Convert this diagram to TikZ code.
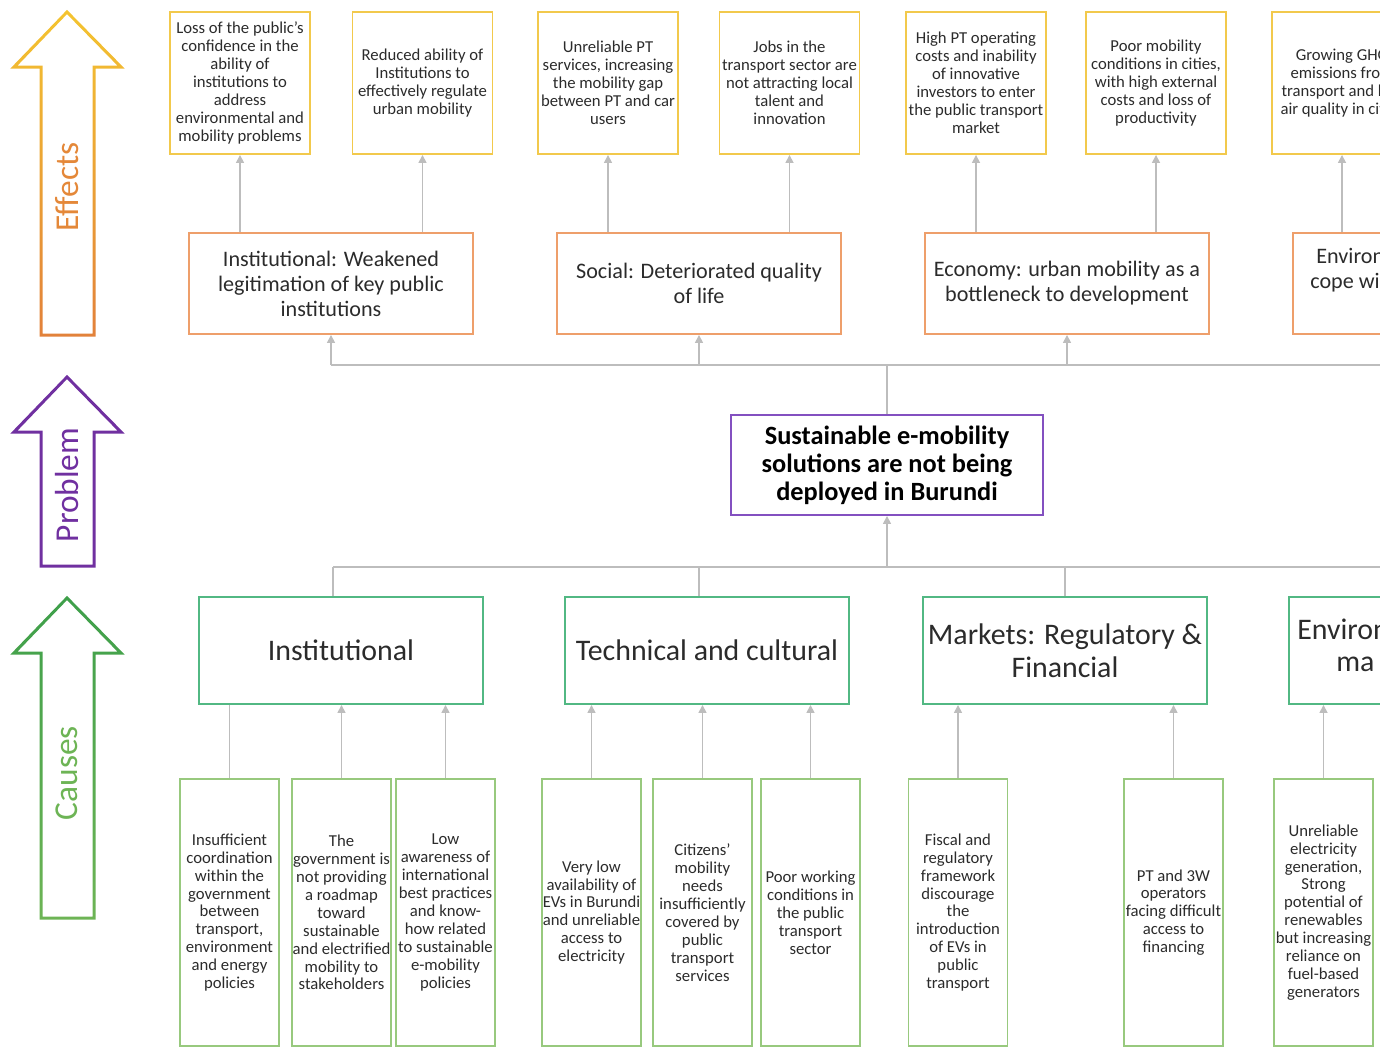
\documentclass[tikz,border=0pt]{standalone}
\usepackage{fontspec}
\setmainfont{Carlito}
\usetikzlibrary{arrows.meta}

\definecolor{efftop}{HTML}{F4C430}
\definecolor{effbot}{HTML}{E2813A}
\definecolor{effline}{HTML}{F2C94C}
\definecolor{impline}{HTML}{EE9F6B}
\definecolor{probline}{HTML}{8350C0}
\definecolor{probtxt}{HTML}{7030A0}
\definecolor{cauline}{HTML}{52B883}
\definecolor{subline}{HTML}{98C97E}
\definecolor{cautop}{HTML}{3E9F4A}
\definecolor{caubot}{HTML}{6DB455}
\definecolor{linkgray}{HTML}{BDBDBD}
\definecolor{txtgray}{HTML}{2B2B2B}

\tikzset{
  effect/.style={draw=effline, line width=1.1pt, minimum width=2.8cm, minimum height=2.84cm,
    inner sep=0pt, align=center, text=txtgray, font=\fontsize{9.5}{10.2}\selectfont},
  impact/.style={draw=impline, line width=1.1pt, minimum width=5.68cm, minimum height=2.02cm,
    inner sep=0pt, align=center, text=txtgray, font=\fontsize{12.6}{14.2}\selectfont},
  problem/.style={draw=probline, line width=1.1pt, minimum width=6.24cm, minimum height=2cm,
    inner sep=0pt, align=center, text=black, font=\bfseries\fontsize{15}{16}\selectfont},
  cause/.style={draw=cauline, line width=1.1pt, minimum width=5.68cm, minimum height=2.14cm,
    inner sep=0pt, align=center, text=txtgray, font=\fontsize{17}{18.5}\selectfont},
  subcause/.style={draw=subline, line width=1.1pt, minimum width=1.98cm, minimum height=5.34cm,
    inner sep=0pt, align=center, text=txtgray, font=\fontsize{9.5}{10.2}\selectfont},
  link/.style={draw=linkgray, line width=0.9pt},
  linkup/.style={link, -{Triangle[width=4.5pt,length=4.5pt]}},
  side/.style={rotate=90, font=\fontsize{19}{20}\selectfont},
}

\begin{document}
\begin{tikzpicture}[x=0.02cm, y=-0.02cm]
\useasboundingbox (0,0) rectangle (1380,1048);
\clip (0,0) rectangle (1380,1048);

% Side arrows
\foreach \t/\b/\ca/\cb in {12/335/efftop/effbot, 377/566/probtxt/probtxt, 598/918/cautop/caubot}
{
  \shade[top color=\ca, bottom color=\cb, even odd rule]
    (67,\t-2.1) -- (124.6,\t+56.5) -- (95.5,\t+56.5) -- (95.5,\b+1.5) -- (39.5,\b+1.5)
      -- (39.5,\t+56.5) -- (10.4,\t+56.5) -- cycle
    (67,\t+2.1) -- (117.4,\t+53.5) -- (92.5,\t+53.5) -- (92.5,\b-1.5) -- (42.5,\b-1.5)
      -- (42.5,\t+53.5) -- (17.6,\t+53.5) -- cycle;
}
\node[side, text=effbot!90!efftop] (lblE) at (67,187) {Effects};
\node[side, text=probtxt] (lblP) at (67,485) {Problem};
\node[side, text=caubot] (lblC) at (67,773) {Causes};

% Effects
\node[effect] (e1) at (240,83) {Loss of the public’s\\confidence in the\\ability of\\institutions to\\address\\environmental and\\mobility problems};
\node[effect] (e2) at (422.5,83) {Reduced ability of\\Institutions to\\effectively regulate\\urban mobility};
\node[effect] (e3) at (608,83) {Unreliable PT\\services, increasing\\the mobility gap\\between PT and car\\users};
\node[effect] (e4) at (789.5,83) {Jobs in the\\transport sector are\\not attracting local\\talent and\\innovation};
\node[effect] (e5) at (976,83) {High PT operating\\costs and inability\\of innovative\\investors to enter\\the public transport\\market};
\node[effect] (e6) at (1156,83) {Poor mobility\\conditions in cities,\\with high external\\costs and loss of\\productivity};
\node[effect] (e7) at (1342,83) {Growing GHG\\emissions from\\transport and low\\air quality in cities};

% Impact areas
\node[impact] (im1) at (331,283.5) {Institutional: Weakened\\legitimation of key public\\institutions};
\node[impact] (im2) at (699,283.5) {Social: Deteriorated quality\\of life};
\node[impact] (im3) at (1067,283.5) {Economy: urban mobility as a\\bottleneck to development};
\node[impact] (im4) at (1435,283.5) {};
\node[anchor=base west, inner sep=0pt, text=txtgray, font=\fontsize{12.6}{14.2}\selectfont] (im4a) at (1316,263) {Environ};
\node[anchor=base west, inner sep=0pt, text=txtgray, font=\fontsize{12.6}{14.2}\selectfont] (im4b) at (1310,288) {cope wi};

% Problem
\node[problem] (prob) at (887,465) {Sustainable e-mobility\\solutions are not being\\deployed in Burundi};

% Cause areas
\node[cause] (c1) at (341,650.5) {Institutional};
\node[cause] (c2) at (707,650.5) {Technical and cultural};
\node[cause] (c3) at (1065,650.5) {Markets: Regulatory \&\\Financial};
\node[cause] (c4) at (1431,650.5) {};
\node[anchor=base west, inner sep=0pt, text=txtgray, font=\fontsize{17}{18.5}\selectfont] (c4a) at (1297,639) {Environ};
\node[anchor=base west, inner sep=0pt, text=txtgray, font=\fontsize{17}{18.5}\selectfont] (c4b) at (1336,671) {ma};

% Root causes
\node[subcause] (s1) at (229.5,912.5) {Insufficient\\coordination\\within the\\government\\between\\transport,\\environment\\and energy\\policies};
\node[subcause] (s2) at (341.5,912.5) {The\\government is\\not providing\\a roadmap\\toward\\sustainable\\and electrified\\mobility to\\stakeholders};
\node[subcause] (s3) at (445.5,912.5) {Low\\awareness of\\international\\best practices\\and know-\\how related\\to sustainable\\e-mobility\\policies};
\node[subcause] (s4) at (591.5,912.5) {Very low\\availability of\\EVs in Burundi\\and unreliable\\access to\\electricity};
\node[subcause] (s5) at (702.5,912.5) {Citizens’\\mobility\\needs\\insufficiently\\covered by\\public\\transport\\services};
\node[subcause] (s6) at (810.5,912.5) {Poor working\\conditions in\\the public\\transport\\sector};
\node[subcause] (s7) at (958,912.5) {Fiscal and\\regulatory\\framework\\discourage\\the\\introduction\\of EVs in\\public\\transport};
\node[subcause] (s8) at (1173.5,912.5) {PT and 3W\\operators\\facing difficult\\access to\\financing};
\node[subcause] (s9) at (1323.5,912.5) {Unreliable\\electricity\\generation,\\Strong\\potential of\\renewables\\but increasing\\reliance on\\fuel-based\\generators};

% Links to effects
\foreach \e/\i in {e1/im1, e2/im1, e3/im2, e4/im2, e5/im3, e6/im3, e7/im4}
  \draw[linkup] (\e.south |- \i.north) -- (\e.south);

\coordinate (busE) at (887,365);
\draw[link] (prob.north) -- (busE);
\draw[link] (im1.south |- busE) -- (im4.south |- busE);
\foreach \i in {im1,im2,im3,im4}
  \draw[linkup] (\i.south |- busE) -- (\i.south);

% Links from causes
\coordinate (busC) at (887,567);
\draw[linkup] (busC) -- (prob.south);
\coordinate (d1) at (333,567);
\coordinate (d2) at (699,567);
\coordinate (d3) at (1065,567);
\coordinate (d4) at (1431,567);
\draw[link] (d1) -- (d4);
\foreach \d/\c in {d1/c1, d2/c2, d3/c3, d4/c4}
  \draw[link] (\d) -- (\d |- \c.north);

\draw[link] (s1.north) -- (s1.north |- c1.south);
\foreach \s/\c in {s2/c1, s3/c1, s4/c2, s5/c2, s6/c2, s7/c3, s8/c3, s9/c4}
  \draw[linkup] (\s.north) -- (\s.north |- \c.south);

\end{tikzpicture}
\end{document}
